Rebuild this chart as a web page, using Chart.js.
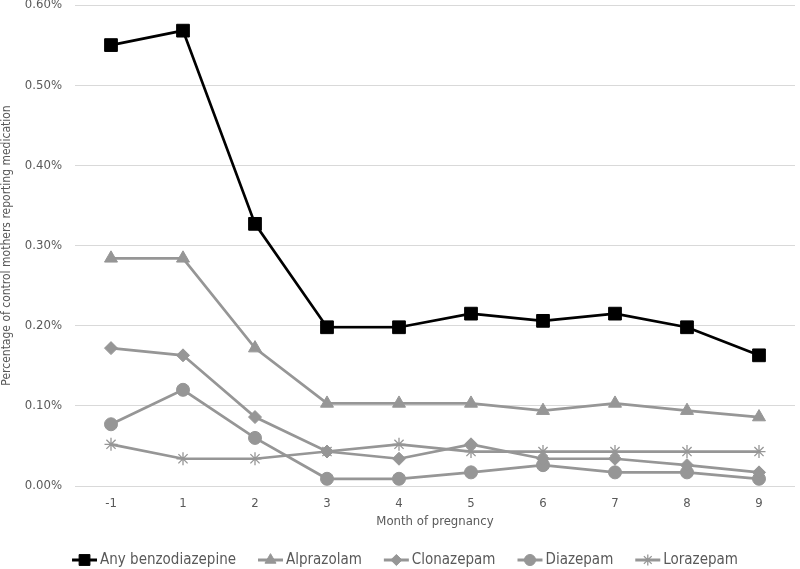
<!DOCTYPE html>
<html>
<head>
<meta charset="utf-8">
<script src="https://cdn.jsdelivr.net/npm/chart.js@4"></script>
<style>
  html, body { margin: 0; padding: 0; background: #fff; }
  #wrap { width: 800px; height: 569px; }
</style>
</head>
<body>
<div id="wrap"><canvas id="myChart" width="800" height="569"></canvas></div>
<script>
const months = ['-1', '1', '2', '3', '4', '5', '6', '7', '8', '9'];

// percentages
const anyBenzo   = [0.550, 0.568, 0.327, 0.198, 0.198, 0.215, 0.206, 0.215, 0.198, 0.163];
const alprazolam = [0.284, 0.284, 0.172, 0.103, 0.103, 0.103, 0.094, 0.103, 0.094, 0.086];
const clonazepam = [0.172, 0.163, 0.086, 0.043, 0.034, 0.052, 0.034, 0.034, 0.026, 0.017];
const diazepam   = [0.077, 0.120, 0.060, 0.009, 0.009, 0.017, 0.026, 0.017, 0.017, 0.009];
const lorazepam  = [0.052, 0.034, 0.034, 0.043, 0.052, 0.043, 0.043, 0.043, 0.043, 0.043];

const yTicks = [0, 0.1, 0.2, 0.3, 0.4, 0.5, 0.6];

const FONT = "'Liberation Sans Narrow', 'DejaVu Sans Condensed', 'Liberation Sans', sans-serif";
const GREY = '#969696';
const TEXT = '#595959';

function series(label, values, color, style, radius) {
  return {
    label: label,
    data: values,
    borderColor: color,
    backgroundColor: color,
    borderWidth: 2.7,
    pointStyle: style,
    pointRadius: radius,
    pointHoverRadius: radius,
    pointBorderWidth: style === 'star' ? 1.3 : 1,
    tension: 0
  };
}

const datasets = [
  series('Any benzodiazepine', anyBenzo, '#000000', 'rect', 9),
  series('Alprazolam', alprazolam, GREY, 'triangle', 7.5),
  series('Clonazepam', clonazepam, GREY, 'rectRot', 6.5),
  series('Diazepam', diazepam, GREY, 'circle', 6.5),
  series('Lorazepam', lorazepam, GREY, 'star', 6.5)
];

// Excel-like legend: short line with the marker on it, then the label
const legendPlugin = {
  id: 'excelLegend',
  afterDraw(chart) {
    const ctx = chart.ctx;
    const y = 560;
    const lineLen = 25, gapText = 3, gapItem = 22;
    ctx.save();
    ctx.font = '15px ' + FONT;
    const widths = chart.data.datasets.map(ds => lineLen + gapText + ctx.measureText(ds.label).width);
    const total = widths.reduce((a, b) => a + b, 0) + gapItem * (widths.length - 1);
    let x = 405 - total / 2;
    chart.data.datasets.forEach((ds, i) => {
      ctx.strokeStyle = ds.borderColor;
      ctx.lineWidth = 3;
      ctx.beginPath();
      ctx.moveTo(x, y);
      ctx.lineTo(x + lineLen, y);
      ctx.stroke();
      ctx.fillStyle = ds.backgroundColor;
      ctx.strokeStyle = ds.borderColor;
      ctx.lineWidth = ds.pointBorderWidth;
      Chart.helpers.drawPoint(ctx, {
        pointStyle: ds.pointStyle,
        radius: ds.pointRadius * 0.85,
        rotation: 0,
        borderWidth: ds.pointBorderWidth
      }, x + lineLen / 2, y);
      ctx.fillStyle = TEXT;
      ctx.textBaseline = 'middle';
      ctx.textAlign = 'left';
      ctx.fillText(ds.label, x + lineLen + gapText, y);
      x += widths[i] + gapItem;
    });
    ctx.restore();
  }
};

new Chart(document.getElementById('myChart'), {
  type: 'line',
  data: { labels: months, datasets: datasets },
  options: {
    responsive: false,
    animation: false,
    plugins: {
      legend: { display: false },
      tooltip: { enabled: false }
    },
    layout: { autoPadding: false, padding: { left: 0, right: 5, top: 5, bottom: 40 } },
    scales: {
      x: {
        type: 'category',
        offset: true,
        grid: { display: false, drawTicks: false },
        border: { display: false },
        ticks: { color: TEXT, font: { family: FONT, size: 13 }, padding: 10 },
        title: {
          display: true,
          text: 'Month of pregnancy',
          color: TEXT,
          font: { family: FONT, size: 13 },
          padding: { top: 4, bottom: 0 }
        },
        afterFit(axis) {
          axis.height = 43;
          axis.paddingLeft = 0;
          axis.paddingRight = 0;
        }
      },
      y: {
        min: 0,
        max: 0.6,
        afterBuildTicks(axis) { axis.ticks = yTicks.map(v => ({ value: v })); },
        grid: { color: '#d9d9d9', lineWidth: 1, drawTicks: false },
        border: { display: false },
        ticks: {
          color: TEXT,
          font: { family: FONT, size: 13 },
          padding: 13,
          callback: v => v.toFixed(2) + '%'
        },
        title: {
          display: true,
          text: 'Percentage of control mothers reporting medication',
          color: TEXT,
          font: { family: FONT, size: 12 },
          padding: { top: 0, bottom: 0 }
        },
        afterFit(axis) {
          axis.width = 75;
          axis.paddingTop = 0;
          axis.paddingBottom = 0;
        }
      }
    }
  },
  plugins: [legendPlugin]
});
</script>
</body>
</html>
